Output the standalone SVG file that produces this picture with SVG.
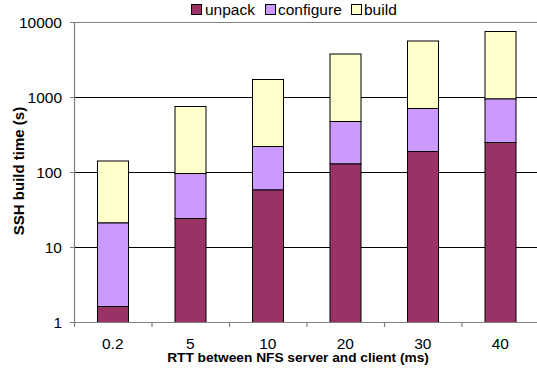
<svg xmlns="http://www.w3.org/2000/svg" width="537" height="372" viewBox="0 0 537 372">
<style>
text{font-family:"Liberation Sans",Arial,sans-serif;font-size:15.5px;fill:#000}
.b{font-weight:bold}
.grid{stroke:#000;stroke-width:1}
.ax{stroke:#808080;stroke-width:1.2;fill:none}
.u{fill:#993366;stroke:#000;stroke-width:1}
.c{fill:#CC99FF;stroke:#000;stroke-width:1}
.d{fill:#FFFFCC;stroke:#000;stroke-width:1}
</style>
<rect width="537" height="372" fill="#fff"/>
<g id="grid">
<line class="grid" x1="74" y1="97.5" x2="537" y2="97.5"/>
<line class="grid" x1="74" y1="172.5" x2="537" y2="172.5"/>
<line class="grid" x1="74" y1="247.5" x2="537" y2="247.5"/>
<line class="ax" x1="74" y1="22.5" x2="537" y2="22.5"/>
</g>
<g id="bars">
<g id="bar-0.2"><rect class="d" x="97.5" y="161" width="31" height="62"/><rect class="c" x="97.5" y="223" width="31" height="83.5"/><rect class="u" x="97.5" y="306.5" width="31" height="16"/></g>
<g id="bar-5"><rect class="d" x="175" y="106.5" width="31" height="67"/><rect class="c" x="175" y="173.5" width="31" height="45"/><rect class="u" x="175" y="218.5" width="31" height="104"/></g>
<g id="bar-10"><rect class="d" x="252.5" y="79.5" width="31" height="67"/><rect class="c" x="252.5" y="146.5" width="31" height="43.5"/><rect class="u" x="252.5" y="190" width="31" height="132.5"/></g>
<g id="bar-20"><rect class="d" x="330" y="54" width="31" height="67.5"/><rect class="c" x="330" y="121.5" width="31" height="42.5"/><rect class="u" x="330" y="164" width="31" height="158.5"/></g>
<g id="bar-30"><rect class="d" x="407.5" y="41" width="31" height="67.5"/><rect class="c" x="407.5" y="108.5" width="31" height="43"/><rect class="u" x="407.5" y="151.5" width="31" height="171"/></g>
<g id="bar-40"><rect class="d" x="485" y="31.5" width="31" height="67.5"/><rect class="c" x="485" y="99" width="31" height="43.5"/><rect class="u" x="485" y="142.5" width="31" height="180"/></g>
</g>
<g id="axes">
<line class="ax" x1="74.5" y1="22" x2="74.5" y2="323"/>
<line class="ax" x1="74" y1="322.5" x2="537" y2="322.5"/>
<path class="ax" d="M70 22.5H74.5M70 97.5H74.5M70 172.5H74.5M70 247.5H74.5M70 322.5H74.5"/>
<path class="ax" d="M74.5 322.5V327M152 322.5V327M229.5 322.5V327M307 322.5V327M384.5 322.5V327M462 322.5V327"/>
</g>
<g id="ylabels" text-anchor="end">
<text x="62" y="28">10000</text>
<text x="62" y="103">1000</text>
<text x="62" y="178">100</text>
<text x="62" y="253">10</text>
<text x="62" y="328">1</text>
</g>
<g id="xlabels" text-anchor="middle">
<text x="112.75" y="349">0.2</text>
<text x="190.25" y="349">5</text>
<text x="267.75" y="349">10</text>
<text x="345.25" y="349">20</text>
<text x="422.75" y="349">30</text>
<text x="500.25" y="349">40</text>
</g>
<text class="b" x="298" y="361.5" text-anchor="middle" style="font-size:13.7px">RTT between NFS server and client (ms)</text>
<text class="b" transform="translate(24 171) rotate(-90)" text-anchor="middle" style="font-size:15px">SSH build time (s)</text>
<g id="legend">
<rect class="u" x="191.5" y="4.5" width="10" height="10"/><text x="205" y="15">unpack</text>
<rect class="c" x="265.5" y="4.5" width="10" height="10"/><text x="278" y="15">configure</text>
<rect class="d" x="351.5" y="4.5" width="10" height="10"/><text x="364" y="15">build</text>
</g>
</svg>
